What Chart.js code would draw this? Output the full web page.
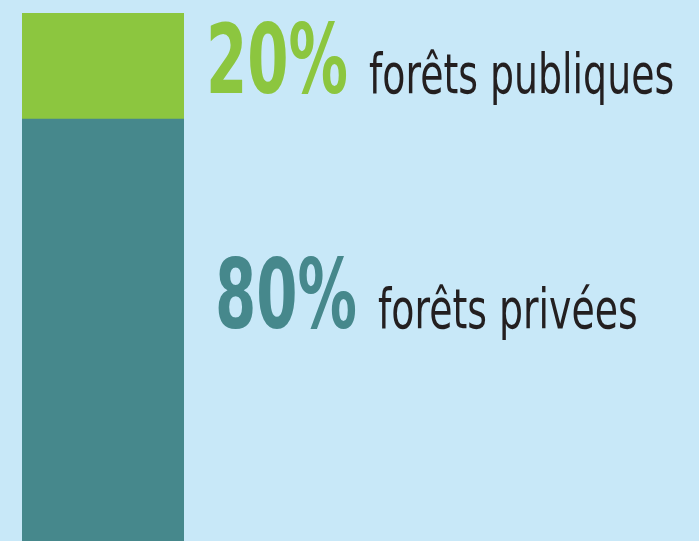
<!DOCTYPE html>
<html>
<head>
<meta charset="utf-8">
<script src="https://cdn.jsdelivr.net/npm/chart.js@4"></script>
<style>
    html, body { margin: 0; padding: 0; overflow: hidden; background: #c8e8f8; }
    #wrap { position: absolute; left: 0; top: 0; width: 699px; height: 543px; }
</style>
</head>
<body>
<div id="wrap"><canvas id="forestChart"></canvas></div>
<script>
// data, bottom segment first
const categories = ['forêts privées', 'forêts publiques'];
const shares = [80, 20];
const shareLabels = ['80%', '20%'];
const colors = ['#46888c', '#8cc63f'];

// text placement next to each segment (relative to segment centre)
const textStyle = [
    { dx: 31, dy: -3 },
    { dx: 22, dy: 27 }
];

const labelPlugin = {
    id: 'sideLabels',
    afterDatasetsDraw(chart) {
        const ctx = chart.ctx;
        chart.data.datasets.forEach((ds, i) => {
            const el = chart.getDatasetMeta(i).data[0];
            const midY = (el.y + el.base) / 2;
            let x = el.x + el.width / 2 + textStyle[i].dx;
            const y = midY + textStyle[i].dy;

            ctx.save();
            ctx.textBaseline = 'alphabetic';
            ctx.fillStyle = ds.backgroundColor;
            ctx.font = 'bold 97px "DejaVu Sans Condensed", "DejaVu Sans", sans-serif';
            const sx1 = 0.68;
            ctx.translate(x, y);
            ctx.scale(sx1, 1);
            ctx.fillText(shareLabels[i], 0, 0);
            const w1 = ctx.measureText(shareLabels[i]).width * sx1;
            ctx.restore();

            x += w1 + 21;
            ctx.save();
            ctx.fillStyle = '#231f20';
            ctx.font = '55px "DejaVu Sans Condensed", "DejaVu Sans", sans-serif';
            const sx2 = 0.765;
            ctx.translate(x, y);
            ctx.scale(sx2, 1);
            ctx.fillText(categories[i], 0, 0);
            ctx.restore();
        });
    }
};

document.addEventListener('DOMContentLoaded', function () {
    const canvas = document.getElementById('forestChart');

    new Chart(canvas, {
        type: 'bar',
        data: {
            labels: [''],
            datasets: categories.map((name, i) => ({
                label: name,
                data: [shares[i]],
                backgroundColor: colors[i],
                borderWidth: 0,
                barPercentage: 1,
                categoryPercentage: 1
            }))
        },
        options: {
            responsive: true,
            maintainAspectRatio: false,
            animation: false,
            layout: {
                padding: { top: 13, left: 22, right: 515, bottom: 0 }
            },
            scales: {
                x: { stacked: true, display: false },
                y: { stacked: true, display: false, min: 0, max: 100 }
            },
            plugins: {
                legend: { display: false },
                tooltip: { enabled: false }
            }
        },
        plugins: [labelPlugin]
    });
});
</script>
</body>
</html>
